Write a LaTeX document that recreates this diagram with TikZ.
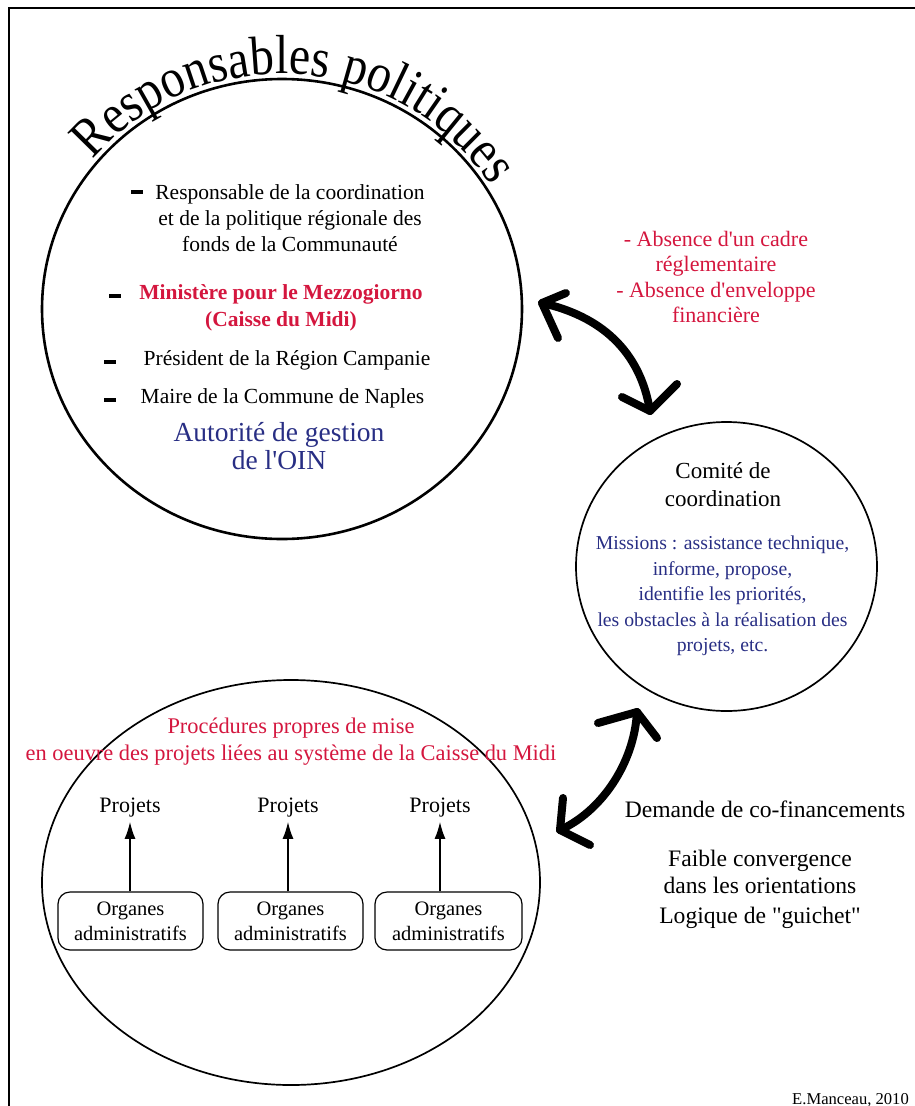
\documentclass[tikz,border=0pt]{standalone}
\usepackage{fontspec}
\setmainfont{Liberation Serif}
\newfontfamily\titrefamily{Liberation Serif}[FakeStretch=0.87]
\usetikzlibrary{arrows.meta,shapes.geometric,decorations.text}
\definecolor{rougetxt}{RGB}{212,22,62}
\definecolor{bleutxt}{RGB}{40,46,132}
\newcommand{\fonttitre}{\titrefamily\fontsize{55}{55}\selectfont}

\begin{document}
\begin{tikzpicture}[x=1pt, y=-1pt,
    puce/.style={fill=black, minimum width=12, minimum height=3.5, inner sep=0},
    txt/.style={align=center, inner sep=1, font=\fontsize{21.5}{26}\selectfont},
    droite/.style={align=center, inner sep=1, font=\fontsize{23.6}{27}\selectfont},
    bulle/.style={draw, ellipse, inner sep=0, line width=1.7},
    organe/.style={draw, rounded corners=12, minimum width=145, minimum height=58,
      align=center, inner sep=1, line width=1.2, font=\fontsize{20.5}{25}\selectfont},
    fleche/.style={-{Latex[length=17,width=11]}, line width=1.3, shorten >=3},
    brush/.style={line width=8, line cap=round, line join=round}]
    \useasboundingbox (0,0) rectangle (915,1106);
    % cadre
    \draw[line width=1.8] (9,1106) -- (9,8) -- (915,8);
    % Responsables politiques
    \node[bulle, line width=2.6, minimum width=480, minimum height=460] (polit) at (282,309) {};
    \path[decorate, decoration={text along path, text align=center,
        text={|\fonttitre|Responsables politiques}}]
        (polit.center) ++(-145:245 and 235) arc[start angle=-145, end angle=-27, x radius=245, y radius=235];
    \node[txt] (coord) at (290,218) {Responsable de la coordination\\et de la politique régionale des\\fonds de la Communauté};
    \node[puce] (d1) at (137,192) {};
    \node[txt, text=rougetxt, font=\fontsize{21.5}{27}\selectfont\bfseries] (minist) at (281,308) {Ministère pour le Mezzogiorno\\(Caisse du Midi)};
    \node[puce] (d2) at (115,296) {};
    \node[txt, anchor=base] (pres) at (287,365) {Président de la Région Campanie};
    \node[puce] (d3) at (110,362) {};
    \node[txt, anchor=base] (maire) at (282.5,403) {Maire de la Commune de Naples};
    \node[puce] (d4) at (110,400) {};
    \node[txt, text=bleutxt, font=\fontsize{27.5}{28}\selectfont] (autor) at (279,446) {Autorité de gestion\\de l\textquotesingle OIN};
    % absences
    \node[txt, text=rougetxt, font=\fontsize{22}{25.5}\selectfont] (absence) at (716,277) {- Absence d\textquotesingle un cadre\\réglementaire\\- Absence d\textquotesingle enveloppe\\financière};
    % Comite de coordination
    \node[bulle, minimum width=301, minimum height=289] (comite) at (726.5,566.5) {};
    \node[txt, font=\fontsize{23}{28}\selectfont] (comtit) at (723,485) {Comité de\\coordination};
    \node[txt, text=bleutxt, font=\fontsize{19.7}{25.5}\selectfont] (missions) at (722.5,596) {Missions : assistance technique,\\informe, propose,\\identifie les priorités,\\les obstacles à la réalisation des\\projets, etc.};
    % fleches pinceau
    \coordinate (a1) at (542,303);
    \coordinate (a2) at (650,411);
    \draw[brush] (a1) .. controls (600,316) and (640,350) .. (a2);
    \draw[brush] (566,293) -- (a1) -- (558,338);
    \draw[brush] (622,397) -- (a2) -- (677,384);
    \coordinate (a3) at (637,712);
    \coordinate (a4) at (560,830);
    \draw[brush] (a3) .. controls (634,765) and (600,812) .. (a4);
    \draw[brush] (598,723) -- (a3) -- (657,738);
    \draw[brush] (563,798) -- (a4) -- (590,845);
    % procedures
    \node[bulle, minimum width=498, minimum height=405] (proced) at (291,882.5) {};
    \node[txt, text=rougetxt, font=\fontsize{22.4}{27}\selectfont] (proctit) at (291,742) {Procédures propres de mise\\en oeuvre des projets liées au système de la Caisse du Midi};
    \node[txt, anchor=base, inner sep=2, font=\fontsize{22}{26}\selectfont] (p1) at (130,812) {Projets};
    \node[txt, anchor=base, inner sep=2, font=\fontsize{22}{26}\selectfont] (p2) at (288,812) {Projets};
    \node[txt, anchor=base, inner sep=2, font=\fontsize{22}{26}\selectfont] (p3) at (440,812) {Projets};
    \node[organe] (o1) at (130.5,921) {Organes\\administratifs};
    \node[organe] (o2) at (290.5,921) {Organes\\administratifs};
    \node[organe, minimum width=147] (o3) at (448.5,921) {Organes\\administratifs};
    \draw[fleche] (p1.south |- o1.north) -- (p1.south);
    \draw[fleche] (p2.south |- o2.north) -- (p2.south);
    \draw[fleche] (p3.south |- o3.north) -- (p3.south);
    % texte a droite
    \node[droite, anchor=base] (demande) at (765,817) {Demande de co-financements};
    \node[droite] (faible) at (760,871.5) {Faible convergence\\dans les orientations};
    \node[droite, anchor=base] (guichet) at (760,923) {Logique de \textquotedbl guichet\textquotedbl};
    \node[anchor=base west, inner sep=0, font=\fontsize{16.6}{20}\selectfont] (auteur) at (792,1104) {E.Manceau, 2010};
\end{tikzpicture}
\end{document}
